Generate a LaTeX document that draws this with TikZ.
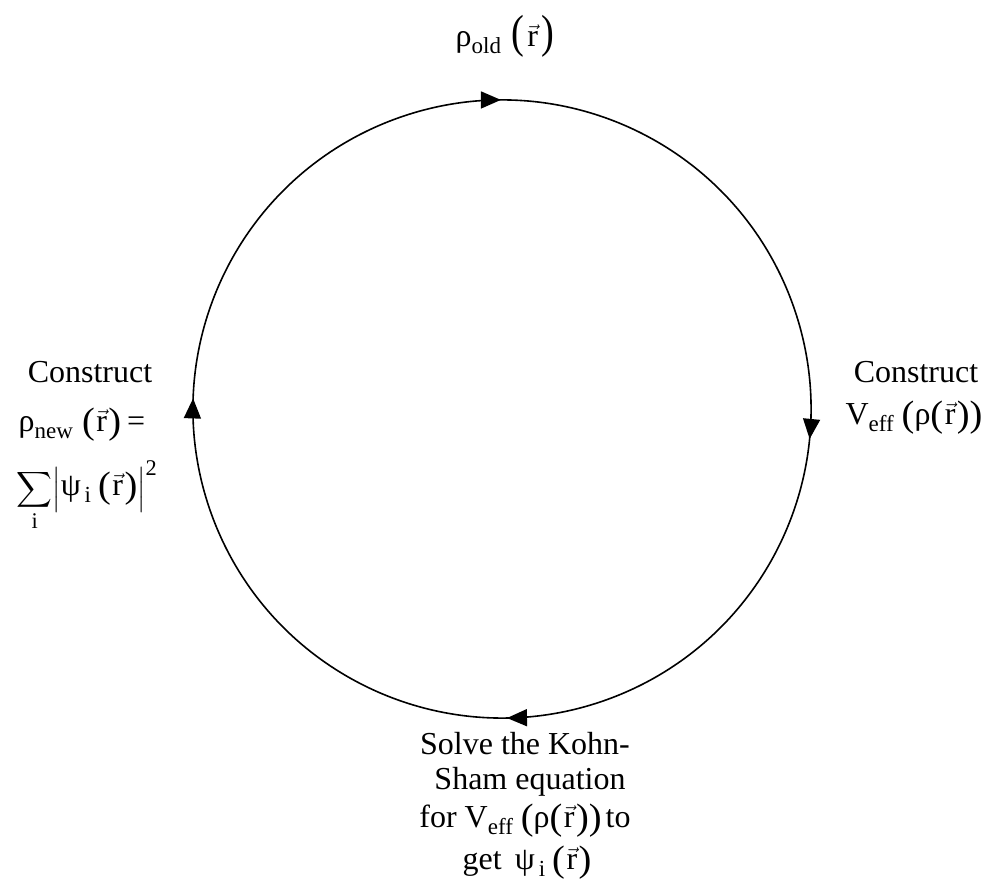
\documentclass[tikz,border=0pt]{standalone}
\usepackage{amsmath}
\usepackage{graphicx}
\usepackage{fontspec}
\setmainfont{Liberation Serif}
\usetikzlibrary{decorations.markings,arrows.meta}
\newcommand{\rv}{\hspace{1.5pt}\ensuremath{\vec{\text{r}}}\hspace{1.5pt}}
\newcommand{\sub}[1]{\raisebox{-7pt}{\fontsize{23}{23}\selectfont #1}}
\newcommand{\lpar}[1][1.15]{\raisebox{-1.5pt}{\scalebox{1.2}[#1]{(}}}
\newcommand{\rpar}[1][1.15]{\raisebox{-1.5pt}{\scalebox{1.2}[#1]{)}}}
\begin{document}
\begin{tikzpicture}[x=1pt,y=1pt,
  lbl/.style={anchor=base,inner sep=0pt,font=\fontsize{32}{38}\selectfont},
  cyctip/.tip={Triangle[length=20pt,width=17pt]},
  cyc/.style={line width=1.6pt, postaction={decorate}, decoration={markings,
    mark=at position 0.061 with {\arrow{cyctip}},
    mark=at position 0.305 with {\arrow{cyctip}},
    mark=at position 0.571 with {\arrow{cyctip}},
    mark=at position 0.803 with {\arrow{cyctip}}}}]
\useasboundingbox[fill=white] (0,0) rectangle (993,890);
\coordinate (c) at (502,481);
\draw[cyc] (c) ++(200:309) arc[start angle=200,end angle=-160,radius=309];
% top
\node[lbl] (old) at (505,843) {ρ\sub{old}\hspace{10pt}\raisebox{1pt}{\lpar[1.45]}\hspace{2pt}\rv\hspace{2pt}\raisebox{1pt}{\rpar[1.45]}};
% left
\node[lbl] (lc) at (90,507) {Construct};
\node[lbl] (lrho) at (82,458) {ρ\sub{new}\hspace{9pt}\lpar\rv\rpar\hspace{6pt}=};
\node[lbl] (lsum) at (87,394) {$\displaystyle\sum_{\text{i}}\Bigl|$ψ\sub{\,i}\hspace{7pt}\lpar\rv\rpar$\Bigr|^{\text{2}}$};
% right
\node[lbl] (rc) at (916,507) {Construct};
\node[lbl] (rv) at (914,465) {V\sub{eff}\hspace{8pt}\lpar ρ\lpar\rv\rpar\rpar};
% bottom
\node[lbl] (b1) at (525,135) {Solve the Kohn-};
\node[lbl] (b2) at (530,100) {Sham equation};
\node[lbl] (b3) at (525,62) {for V\sub{eff}\hspace{8pt}\lpar ρ\lpar\rv\rpar\rpar\hspace{4pt}to};
\node[lbl] (b4) at (527,20) {get \,ψ\sub{\,i}\hspace{7pt}\lpar\rv\rpar};
\end{tikzpicture}
\end{document}
